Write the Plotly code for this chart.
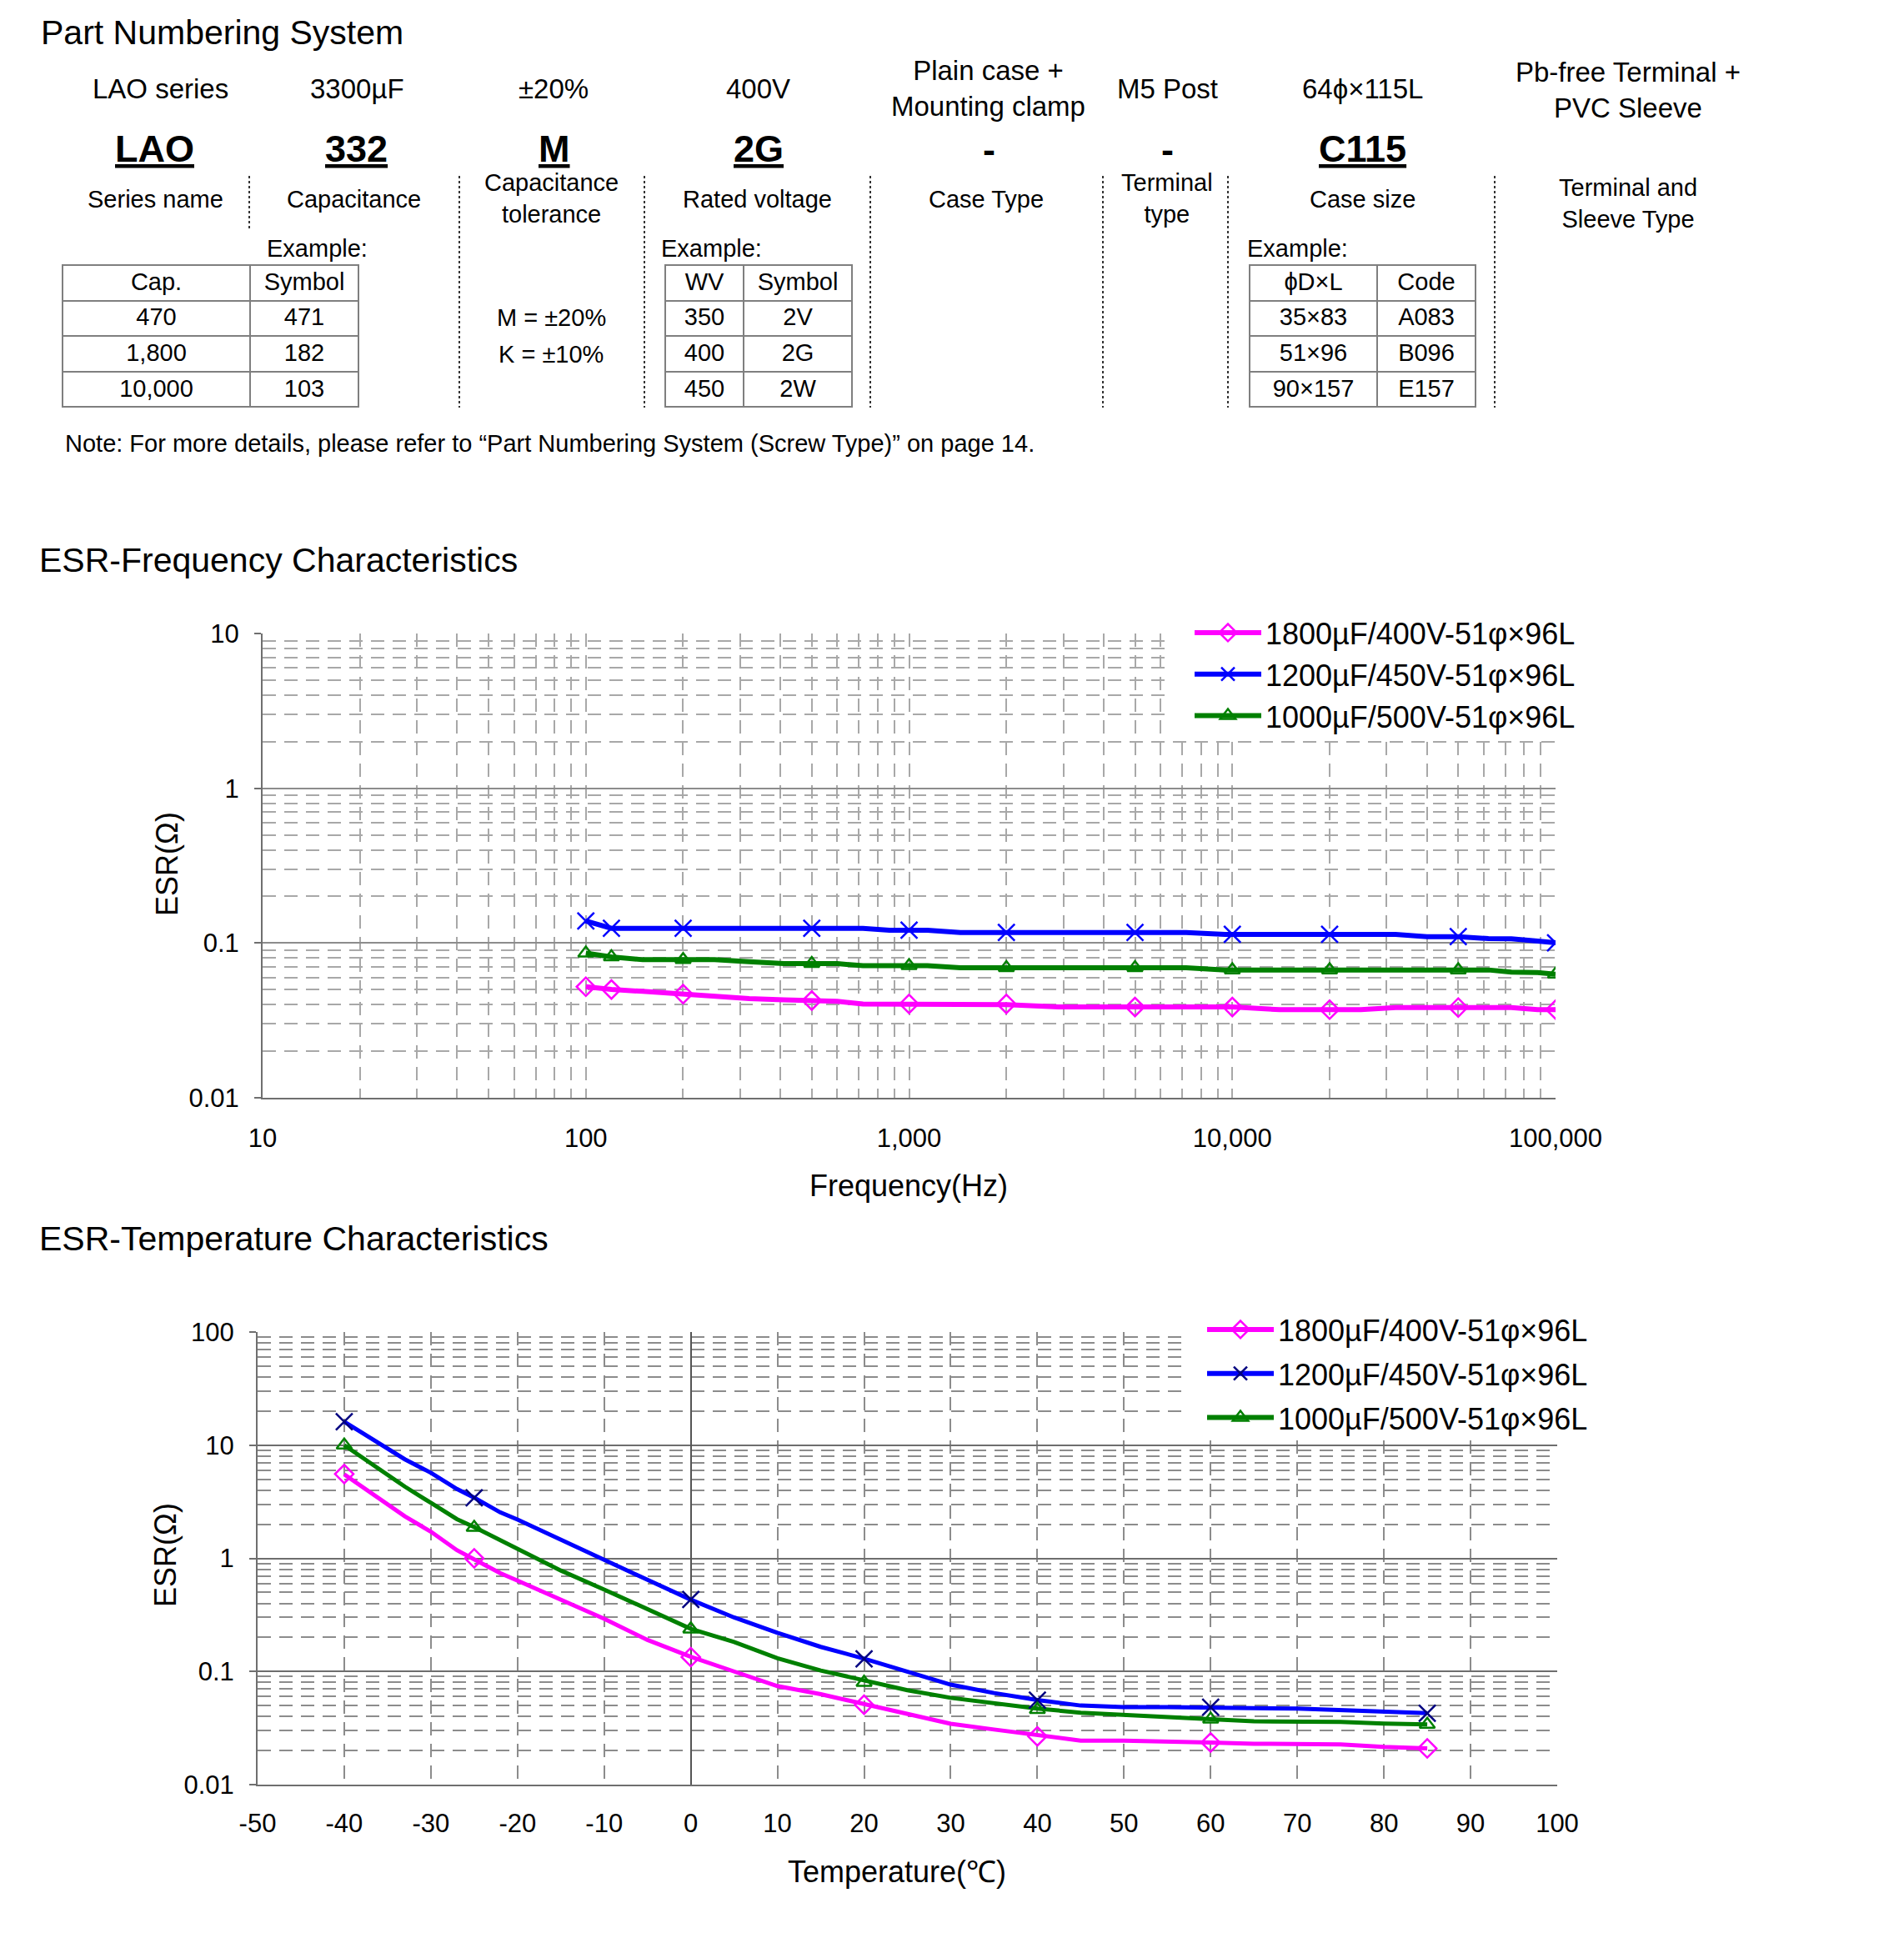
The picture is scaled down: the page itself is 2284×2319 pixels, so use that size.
import plotly.graph_objects as go

W, H = 2284, 2319
FONT = "Arial, Liberation Sans, sans-serif"

# ---------------- data ----------------
SERIES = ["1800µF/400V-51φ×96L", "1200µF/450V-51φ×96L", "1000µF/500V-51φ×96L"]

# ESR-Frequency: marker points
F_MARK = [100, 120, 200, 500, 1000, 2000, 5000, 10000, 20000, 50000, 100000]
ESR_F_1800 = [0.0522, 0.0501, 0.0468, 0.0425, 0.0404, 0.0404, 0.0386, 0.0386, 0.0371, 0.0383, 0.0371]
ESR_F_1200 = [0.139, 0.1245, 0.1245, 0.1245, 0.121, 0.117, 0.117, 0.1137, 0.1137, 0.110, 0.1004]
ESR_F_1000 = [0.0859, 0.0813, 0.078, 0.0736, 0.0713, 0.0692, 0.0692, 0.067, 0.067, 0.067, 0.0629]
# ESR-Frequency: line points
F_LINE = [100, 120, 150, 200, 250, 320, 410, 500, 600, 720, 870, 1000, 1140, 1440, 2000, 2900,
          5000, 7200, 9500, 10000, 14000, 20000, 25000, 32000, 40000, 50000, 62000, 73000, 88000, 100000]
ESR_FL_1800 = [0.0522, 0.0501, 0.0487, 0.0468, 0.0449, 0.0438, 0.043, 0.0425, 0.042, 0.0404, 0.0404,
               0.0404, 0.0404, 0.0404, 0.0400, 0.0386, 0.0386, 0.0386, 0.0386, 0.0386, 0.0371, 0.0371,
               0.0371, 0.0383, 0.0383, 0.0383, 0.0383, 0.0383, 0.0371, 0.0371]
ESR_FL_1200 = [0.139, 0.1245, 0.1245, 0.1245, 0.1245, 0.1245, 0.1245, 0.1245, 0.1245, 0.1245, 0.121,
               0.121, 0.121, 0.117, 0.117, 0.117, 0.117, 0.117, 0.1137, 0.1137, 0.1137, 0.1137,
               0.1137, 0.1137, 0.110, 0.110, 0.1068, 0.1064, 0.103, 0.1004]
ESR_FL_1000 = [0.0859, 0.0813, 0.078, 0.078, 0.078, 0.0758, 0.0736, 0.0736, 0.0736, 0.0713, 0.0713,
               0.0713, 0.0713, 0.0692, 0.0692, 0.0692, 0.0692, 0.0692, 0.067, 0.067, 0.067, 0.067,
               0.067, 0.067, 0.067, 0.067, 0.067, 0.0648, 0.0645, 0.0629]

# ESR-Temperature: marker points
T_MARK = [-40, -25, 0, 20, 40, 60, 85]
ESR_T_1800 = [5.56, 1.0, 0.134, 0.0508, 0.0267, 0.0236, 0.0209]
ESR_T_1200 = [16.1, 3.43, 0.433, 0.129, 0.0558, 0.0484, 0.0428]
ESR_T_1000 = [10.0, 1.87, 0.237, 0.080, 0.0461, 0.0378, 0.034]
# ESR-Temperature: line points
T_LINE = [-40, -33, -30, -27, -25, -22, -20, -15, -10, -5, 0, 5, 10, 15, 20, 25, 30, 35, 40, 45,
          50, 55, 60, 65, 70, 75, 80, 85]
ESR_TL_1800 = [5.52, 2.35, 1.72, 1.18, 0.98, 0.74, 0.635, 0.43, 0.292, 0.19, 0.135, 0.10, 0.0743,
               0.063, 0.0513, 0.042, 0.0345, 0.0307, 0.0274, 0.0245, 0.0245, 0.0238, 0.0236, 0.023,
               0.0229, 0.0227, 0.0215, 0.0209]
ESR_TL_1200 = [16.1, 7.5, 5.7, 4.1, 3.44, 2.55, 2.2, 1.45, 0.96, 0.645, 0.431, 0.30, 0.22, 0.165,
               0.130, 0.099, 0.0765, 0.0645, 0.056, 0.050, 0.0485, 0.0485, 0.0484, 0.0475, 0.047,
               0.0455, 0.044, 0.0428]
ESR_TL_1000 = [10.0, 4.3, 3.09, 2.22, 1.89, 1.45, 1.23, 0.78, 0.53, 0.355, 0.238, 0.182, 0.131,
               0.102, 0.0833, 0.0683, 0.0585, 0.0522, 0.0471, 0.0432, 0.0416, 0.040, 0.0378, 0.0363,
               0.0363, 0.0358, 0.0347, 0.034]

# tick labels
F_TICKS = [10, 100, 1000, 10000, 100000]
F_TICKTEXT = ["10", "100", "1,000", "10,000", "100,000"]
EF_TICKS = [0.01, 0.1, 1, 10]
EF_TICKTEXT = ["0.01", "0.1", "1", "10"]
T_TICKS = [-50, -40, -30, -20, -10, 0, 10, 20, 30, 40, 50, 60, 70, 80, 90, 100]
T_TICKTEXT = [str(v) for v in T_TICKS]
ET_TICKS = [0.01, 0.1, 1, 10, 100]
ET_TICKTEXT = ["0.01", "0.1", "1", "10", "100"]

# part numbering texts
PN_VALUES = ["LAO series", "3300µF", "±20%", "400V", "Plain case +<br>Mounting clamp", "M5 Post",
             "64ϕ×115L", "Pb-free Terminal +<br>PVC Sleeve"]
PN_CODES = ["LAO", "332", "M", "2G", "-", "-", "C115", ""]
PN_NAMES = ["Series name", "Capacitance", "Capacitance<br>tolerance", "Rated voltage", "Case Type",
            "Terminal<br>type", "Case size", "Terminal and<br>Sleeve Type"]
TOL_TEXT = ["M = ±20%", "K = ±10%"]
CAP_HEAD = ["Cap.", "Symbol"]
CAP_EX = ["470", "1,800", "10,000"]
CAP_SYM = ["471", "182", "103"]
WV_HEAD = ["WV", "Symbol"]
WV_EX = ["350", "400", "450"]
WV_SYM = ["2V", "2G", "2W"]
SIZE_HEAD = ["ϕD×L", "Code"]
SIZE_EX = ["35×83", "51×96", "90×157"]
SIZE_CODE = ["A083", "B096", "E157"]
NOTE = "Note: For more details, please refer to “Part Numbering System (Screw Type)” on page 14."

# ---------------- layout helpers ----------------
OFF = 8  # page body margin of the html page


def px(x):
    return (x - OFF) / W


def py(y):
    return 1 - (y - OFF) / H


COLORS = ["#FF00FF", "#0000FF", "#008000"]
T_MARK_COLORS = ["#FF00FF", "#000080", "#008000"]
SYMBOLS = ["diamond-open", "x-thin-open", "triangle-up-open"]
MSIZE = [17, 20, 16]

fig = go.Figure()

f_lines = [ESR_FL_1800, ESR_FL_1200, ESR_FL_1000]
f_marks = [ESR_F_1800, ESR_F_1200, ESR_F_1000]
t_lines = [ESR_TL_1800, ESR_TL_1200, ESR_TL_1000]
t_marks = [ESR_T_1800, ESR_T_1200, ESR_T_1000]

for i in range(3):
    fig.add_trace(go.Scatter(x=F_LINE, y=f_lines[i], mode="lines", line=dict(color=COLORS[i], width=6),
                             showlegend=False, hoverinfo="skip", xaxis="x", yaxis="y"))
for i in range(3):
    fig.add_trace(go.Scatter(x=F_MARK, y=f_marks[i], mode="markers",
                             marker=dict(symbol=SYMBOLS[i], size=MSIZE[i], color=COLORS[i],
                                         line=dict(width=2.5, color=COLORS[i])),
                             showlegend=False, xaxis="x", yaxis="y"))
    fig.add_trace(go.Scatter(x=[None], y=[None], mode="lines+markers", name=SERIES[i],
                             line=dict(color=COLORS[i], width=6),
                             marker=dict(symbol=SYMBOLS[i], size=MSIZE[i], color=COLORS[i],
                                         line=dict(width=2.5, color=COLORS[i])),
                             legend="legend", xaxis="x", yaxis="y"))

for i in range(3):
    fig.add_trace(go.Scatter(x=T_LINE, y=t_lines[i], mode="lines", line=dict(color=COLORS[i], width=5),
                             showlegend=False, hoverinfo="skip", xaxis="x2", yaxis="y2"))
for i in range(3):
    fig.add_trace(go.Scatter(x=T_MARK, y=t_marks[i], mode="markers",
                             marker=dict(symbol=SYMBOLS[i], size=MSIZE[i], color=T_MARK_COLORS[i],
                                         line=dict(width=2.5, color=T_MARK_COLORS[i])),
                             showlegend=False, xaxis="x2", yaxis="y2"))
    fig.add_trace(go.Scatter(x=[None], y=[None], mode="lines+markers", name=SERIES[i],
                             legendgroup="t%d" % i,
                             line=dict(color=COLORS[i], width=6),
                             marker=dict(symbol=SYMBOLS[i], size=MSIZE[i], color=T_MARK_COLORS[i],
                                         line=dict(width=2.5, color=T_MARK_COLORS[i])),
                             legend="legend2", xaxis="x2", yaxis="y2"))


# tables
def add_table(x0, x1, split, y0, y1, head, c1, c2):
    fig.add_trace(go.Table(
        domain=dict(x=[px(x0), px(x1)], y=[py(y1), py(y0)]),
        columnwidth=[split - x0, x1 - split],
        header=dict(values=head, height=42.6, align="center", fill_color="white",
                    line=dict(color="#7f7f7f", width=2), font=dict(family=FONT, size=29, color="black")),
        cells=dict(values=[c1, c2], height=42.6, align="center", fill_color="white",
                   line=dict(color="#7f7f7f", width=2), font=dict(family=FONT, size=29, color="black")),
    ))


add_table(75, 430, 300, 318, 492, CAP_HEAD, CAP_EX, CAP_SYM)
add_table(798, 1022, 892, 318, 492, WV_HEAD, WV_EX, WV_SYM)
add_table(1499, 1770, 1652, 318, 492, SIZE_HEAD, SIZE_EX, SIZE_CODE)

ann = []


def text(t, x, y, size, xanchor="center", yanchor="middle", angle=0):
    ann.append(dict(text=t, x=px(x), y=py(y), xref="paper", yref="paper", showarrow=False,
                    xanchor=xanchor, yanchor=yanchor, textangle=angle,
                    font=dict(family=FONT, size=size, color="black")))


# titles
text("Part Numbering System", 47, 39, 41, xanchor="left")
text("ESR-Frequency Characteristics", 45, 672, 41, xanchor="left")
text("ESR-Temperature Characteristics", 45, 1486, 41, xanchor="left")

val_x = [192, 428, 664, 909, 1185, 1400, 1634, 1953]
val_y = [106, 106, 106, 106, 106.5, 106, 106, 108]
for t, x, y in zip(PN_VALUES, val_x, val_y):
    text(t, x, y, 33)
code_x = [185, 427, 665, 910, 1187, 1400, 1635]
for t, x in zip(PN_CODES, code_x):
    if t == "-":
        text("<b>-</b>", x, 180, 45)
    elif t:
        text("<b><u>" + t + "</u></b>", x, 178, 45)
name_x = [186, 424, 661, 908, 1183, 1400, 1635, 1953]
name_y = [238.6, 238.6, 238, 238.6, 238.6, 238.5, 238.6, 243.5]
for t, x, y in zip(PN_NAMES, name_x, name_y):
    text(t, x, y, 29)
for x in [318, 791, 1494]:
    text("Example:", x, 298, 29, xanchor="left")
text(TOL_TEXT[0], 661, 381, 29)
text(TOL_TEXT[1], 661, 425, 29)
text(NOTE, 76, 532, 29, xanchor="left")

# axis titles
text("Frequency(Hz)", 1090, 1423, 36)
text("ESR(Ω)", 200, 1037, 36, angle=-90)
text("Temperature(℃)", 1076, 2245, 36)
text("ESR(Ω)", 198, 1866, 36, angle=-90)

shapes = []
sep = [(299, 211, 276), (551, 211, 489), (773, 211, 489), (1044, 211, 489),
       (1323, 211, 489), (1473, 211, 489), (1793, 211, 489)]
for x, y0, y1 in sep:
    shapes.append(dict(type="line", xref="paper", yref="paper", x0=px(x), x1=px(x), y0=py(y0), y1=py(y1),
                       line=dict(color="#333333", width=2, dash="dot")))
# white legend backgrounds hiding the grid behind the legends
for x0, x1, y0, y1 in [(1400, 1905, 750, 889), (1422, 1905, 1588, 1722)]:
    shapes.append(dict(type="rect", xref="paper", yref="paper", x0=px(x0), x1=px(x1), y0=py(y1), y1=py(y0),
                       fillcolor="white", line=dict(width=0), layer="above"))

GRID_DASH = "16px,10px"
tickfont = dict(family=FONT, size=31, color="black")

fig.update_layout(
    width=W, height=H, autosize=False,
    margin=dict(l=0, r=0, t=0, b=0, pad=0, autoexpand=False),
    paper_bgcolor="white", plot_bgcolor="white",
    font=dict(family=FONT, color="black"),
    annotations=ann, shapes=shapes,
    xaxis=dict(type="log", range=[1, 5], domain=[px(315), px(1866)], anchor="y",
               tickmode="array", tickvals=F_TICKS, ticktext=F_TICKTEXT, tickfont=tickfont,
               showgrid=True, gridcolor="#a8a8a8", gridwidth=1.5, griddash=GRID_DASH,
               minor=dict(dtick="D1", showgrid=True, gridcolor="#a8a8a8", gridwidth=1.5, griddash=GRID_DASH),
               showline=True, linecolor="#6f6f6f", linewidth=2, ticks="", ticklabelstandoff=20,
               zeroline=False, fixedrange=True),
    yaxis=dict(type="log", range=[-2, 1], domain=[py(1317), py(760)], anchor="x",
               tickmode="array", tickvals=EF_TICKS, ticktext=EF_TICKTEXT, tickfont=tickfont,
               showgrid=True, gridcolor="#8c8c8c", gridwidth=1.5,
               minor=dict(dtick="D1", showgrid=True, gridcolor="#a8a8a8", gridwidth=1.5, griddash=GRID_DASH),
               showline=True, linecolor="#6f6f6f", linewidth=2, ticks="outside", ticklen=8,
               tickcolor="#6f6f6f", tickwidth=1.5, ticklabelstandoff=12, zeroline=False, fixedrange=True),
    xaxis2=dict(range=[-50, 100], domain=[px(309), px(1868)], anchor="y2",
                tickmode="array", tickvals=T_TICKS, ticktext=T_TICKTEXT, tickfont=tickfont,
                showgrid=True, gridcolor="#8c8c8c", gridwidth=1.5, griddash=GRID_DASH,
                zeroline=True, zerolinecolor="#555555", zerolinewidth=1.5,
                showline=True, linecolor="#6f6f6f", linewidth=2, ticks="", ticklabelstandoff=18,
                fixedrange=True),
    yaxis2=dict(type="log", range=[-2, 2], domain=[py(2141), py(1598)], anchor="x2",
                tickmode="array", tickvals=ET_TICKS, ticktext=ET_TICKTEXT, tickfont=tickfont,
                showgrid=True, gridcolor="#6e6e6e", gridwidth=1.5,
                minor=dict(dtick="D1", showgrid=True, gridcolor="#8c8c8c", gridwidth=1.5, griddash=GRID_DASH),
                showline=True, linecolor="#6f6f6f", linewidth=2, ticks="outside", ticklen=8,
                tickcolor="#6f6f6f", tickwidth=1.5, ticklabelstandoff=12, zeroline=False, fixedrange=True),
    legend=dict(x=px(1428), y=py(729), xanchor="left", yanchor="top", bgcolor="rgba(0,0,0,0)",
                font=dict(family=FONT, size=36, color="black"), itemwidth=80, borderwidth=0,
                tracegroupgap=0),
    legend2=dict(x=px(1443), y=py(1565), xanchor="left", yanchor="top", bgcolor="rgba(0,0,0,0)",
                 font=dict(family=FONT, size=36, color="black"), itemwidth=80, borderwidth=0,
                 tracegroupgap=3),
)

fig.write_html("out.html")
